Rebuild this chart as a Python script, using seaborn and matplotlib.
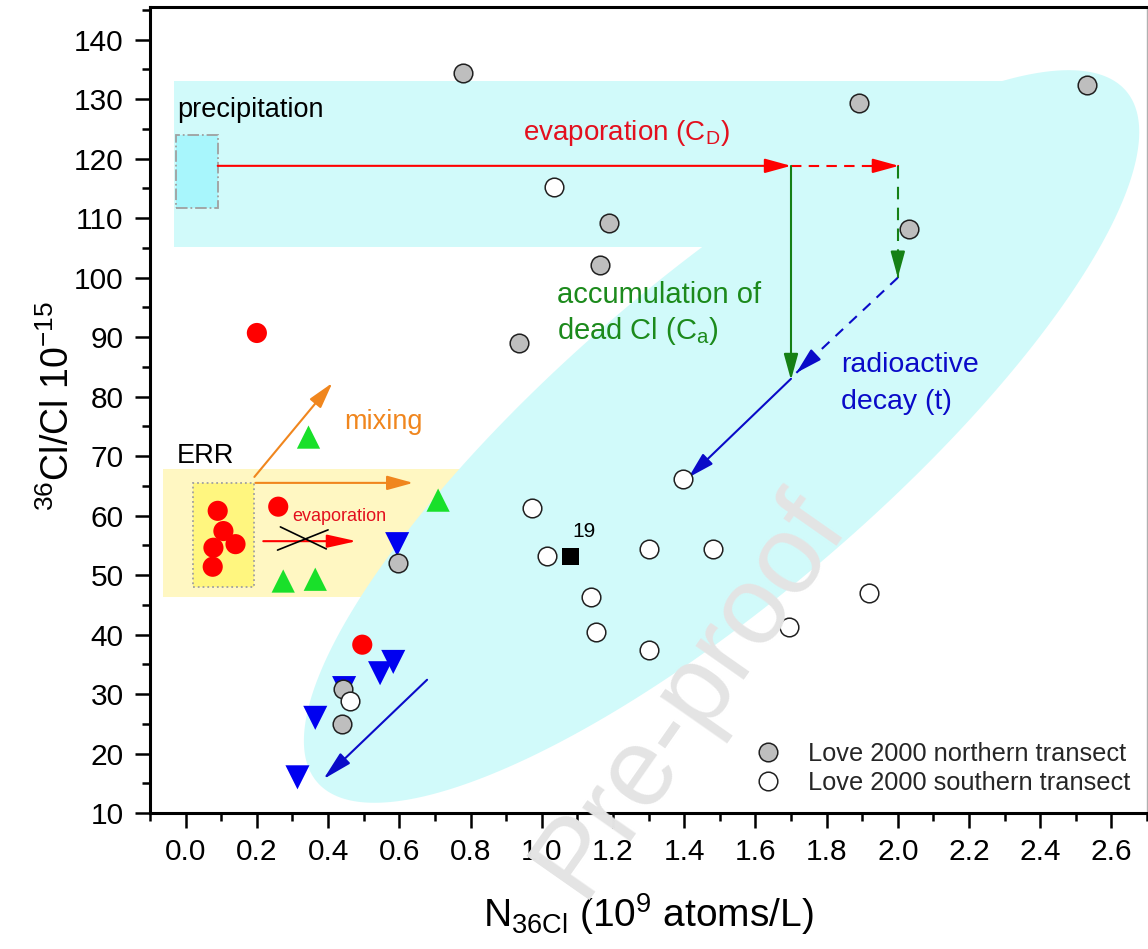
import numpy as np
import pandas as pd
import matplotlib
matplotlib.use("Agg")
import matplotlib.pyplot as plt
import seaborn as sns
from matplotlib.patches import Rectangle, Polygon
from matplotlib.ticker import MultipleLocator
from matplotlib.lines import Line2D

# ---------------- data ----------------
north_x = [0.78, 1.19, 1.165, 0.935, 1.89, 2.53, 2.03, 0.597, 0.443, 0.44]
north_y = [134.4, 109.2, 102.2, 89.0, 129.4, 132.4, 108.2, 52.0, 30.9, 25.0]

south_x = [1.034, 1.398, 0.972, 1.014, 1.30, 1.482, 1.137, 1.151, 1.30, 1.695, 1.92, 0.462]
south_y = [115.3, 66.2, 61.3, 53.2, 54.4, 54.4, 46.3, 40.4, 37.4, 41.3, 47.0, 28.8]

red_x = [0.09, 0.106, 0.078, 0.14, 0.076, 0.20, 0.26, 0.496]
red_y = [60.8, 57.4, 54.6, 55.2, 51.4, 90.7, 61.5, 38.3]

green_x = [0.345, 0.709, 0.274, 0.364]
green_y = [73.2, 62.6, 49.0, 49.3]

blue_x = [0.594, 0.583, 0.546, 0.445, 0.364, 0.314]
blue_y = [55.2, 35.4, 33.5, 31.0, 26.0, 16.0]

black_x = [1.081]
black_y = [53.2]
black_label = "19"

legend_labels = ["Love 2000 northern transect", "Love 2000 southern transect"]
x_ticks = [0.0, 0.2, 0.4, 0.6, 0.8, 1.0, 1.2, 1.4, 1.6, 1.8, 2.0, 2.2, 2.4, 2.6]
y_ticks = [10, 20, 30, 40, 50, 60, 70, 80, 90, 100, 110, 120, 130, 140]

# ---------------- style ----------------
sns.set_theme(style="white")
plt.rcParams["font.family"] = ["Liberation Sans", "DejaVu Sans"]
plt.rcParams["mathtext.fontset"] = "custom"
plt.rcParams["mathtext.rm"] = "Liberation Sans"
plt.rcParams["mathtext.it"] = "Liberation Sans:italic"
plt.rcParams["mathtext.default"] = "regular"

CYAN = "#D1FAFA"
YEL = "#FFF7C2"
YEL2 = "#FFF67F"
RED = "#FF0000"
TRED = "#E3101E"
GREEN = "#1C8A1C"
BLUE = "#0A0AC8"
ORANGE = "#F0861E"

fig = plt.figure(figsize=(11.48, 9.49), dpi=100)
ax = fig.add_axes([0.1307, 0.1433, 0.8685, 0.8493])
XMIN, XMAX, YMIN, YMAX = -0.1, 2.7, 10, 145.5
ax.set_xlim(XMIN, XMAX)
ax.set_ylim(YMIN, YMAX)

# pixel scale (for drawing the rotated ellipse)
SX = 0.8685 * 1148 / (XMAX - XMIN)
SY = 0.8493 * 949 / (YMAX - YMIN)

# background regions
ax.add_patch(Rectangle((-0.034, 105.2), 2.334, 27.9, facecolor=CYAN, edgecolor="none", zorder=1))
ax.add_patch(Rectangle((-0.064, 46.3), 0.864, 21.55, facecolor=YEL, edgecolor="none", zorder=1))
cx, cy, a_px, b_px, th = 1.505, 73.3, 532, 160, np.deg2rad(40.5)
t = np.linspace(0, 2 * np.pi, 400)
u, v = a_px * np.cos(t), b_px * np.sin(t)
ex = cx + (u * np.cos(th) - v * np.sin(th)) / SX
ey = cy + (u * np.sin(th) + v * np.cos(th)) / SY
ax.add_patch(Polygon(np.column_stack([ex, ey]), closed=True, facecolor=CYAN, edgecolor="none", zorder=2))

# precipitation box & ERR box
ax.add_patch(Rectangle((-0.028, 111.7), 0.118, 12.3, facecolor="#A8F6FC", edgecolor="#A0A0A0",
                       linestyle="-.", linewidth=1.3, zorder=3))
ax.add_patch(Rectangle((0.022, 48.0), 0.171, 17.5, facecolor=YEL2, edgecolor="#A0A0A0",
                       linestyle=":", linewidth=1.3, zorder=3))


def arrow(p0, p1, color, lw=1.5, ls="-", hl=0.8, hw=0.22, ms=20):
    if ls == "-":
        ax.annotate("", xy=p1, xytext=p0,
                    arrowprops=dict(arrowstyle=f"-|>,head_length={hl},head_width={hw}",
                                    color=color, lw=lw, shrinkA=0, shrinkB=0,
                                    mutation_scale=ms), zorder=6)
    else:
        ax.plot([p0[0], p1[0]], [p0[1], p1[1]], color=color, lw=lw, dashes=ls, zorder=6)
        d0 = (p0[0] + (p1[0] - p0[0]) * 0.9, p0[1] + (p1[1] - p0[1]) * 0.9)
        ax.annotate("", xy=p1, xytext=d0,
                    arrowprops=dict(arrowstyle=f"-|>,head_length={hl},head_width={hw}",
                                    color=color, lw=lw, shrinkA=0, shrinkB=0,
                                    mutation_scale=ms), zorder=6)


# conceptual arrows
arrow((0.09, 118.8), (1.70, 118.8), RED)
arrow((1.70, 118.8), (2.003, 118.8), RED, ls=(5, 3.5))
ax.plot([1.70, 1.70], [118.8, 95], color="#158015", lw=1.5, zorder=6)
arrow((1.70, 95), (1.70, 82.8), "#158015")
arrow((2.0, 118.8), (2.0, 100.0), "#158015", ls=(6, 4))
arrow((2.0, 100.0), (1.715, 84.0), BLUE, ls=(5, 4))
arrow((1.70, 83.0), (1.412, 66.4), BLUE)
arrow((0.678, 32.4), (0.387, 15.7), BLUE, hl=0.9)
arrow((0.193, 66.5), (0.412, 82.3), ORANGE)
arrow((0.196, 65.5), (0.639, 65.5), ORANGE)
arrow((0.218, 55.7), (0.48, 55.7), RED, hl=0.9, hw=0.2)
ax.plot([0.266, 0.395], [58.1, 54.4], color="black", lw=1.2, zorder=6)
ax.plot([0.258, 0.40], [54.2, 57.6], color="black", lw=1.2, zorder=6)

# ---------------- points ----------------
df_blue = pd.DataFrame({"x": blue_x, "y": blue_y})
df_north = pd.DataFrame({"x": north_x, "y": north_y})
df_south = pd.DataFrame({"x": south_x, "y": south_y})
df_red = pd.DataFrame({"x": red_x, "y": red_y})
df_green = pd.DataFrame({"x": green_x, "y": green_y})
df_black = pd.DataFrame({"x": black_x, "y": black_y})

sns.scatterplot(data=df_blue, x="x", y="y", marker="v", s=300, color="#0000F0",
                edgecolor="none", linewidth=0, ax=ax, zorder=7, legend=False)
sns.scatterplot(data=df_north, x="x", y="y", marker="o", s=180, color="#BEBEBE",
                edgecolor="#202020", linewidth=1.1, ax=ax, zorder=8, legend=False)
sns.scatterplot(data=df_south, x="x", y="y", marker="o", s=180, color="white",
                edgecolor="#202020", linewidth=1.1, ax=ax, zorder=9, legend=False)
sns.scatterplot(data=df_red, x="x", y="y", marker="o", s=210, color=RED,
                edgecolor="none", linewidth=0, ax=ax, zorder=8, legend=False)
sns.scatterplot(data=df_green, x="x", y="y", marker="^", s=280, color="#19E02A",
                edgecolor="none", linewidth=0, ax=ax, zorder=8, legend=False)
sns.scatterplot(data=df_black, x="x", y="y", marker="s", s=150, color="black",
                edgecolor="none", linewidth=0, ax=ax, zorder=8, legend=False)
ax.text(1.087, 56.4, black_label, fontsize=15, color="black", ha="left", va="baseline", zorder=10)

# ---------------- annotations ----------------
ax.text(-0.025, 127.05, "precipitation", fontsize=19.5, color="black", va="baseline", zorder=10)
ax.text(0.947, 123.2, "evaporation (C$_D$)", fontsize=20, color=TRED, va="baseline", zorder=10)
ax.text(1.042, 95.8, "accumulation of", fontsize=21, color=GREEN, va="baseline", zorder=10)
ax.text(1.042, 89.7, "dead Cl (C$_a$)", fontsize=21, color=GREEN, va="baseline", zorder=10)
ax.text(1.840, 84.2, "radioactive", fontsize=20.5, color=BLUE, va="baseline", zorder=10)
ax.text(1.840, 77.9, "decay (t)", fontsize=20.5, color=BLUE, va="baseline", zorder=10)
ax.text(0.445, 74.6, "mixing", fontsize=19.5, color=ORANGE, va="baseline", zorder=10)
ax.text(-0.025, 68.9, "ERR", fontsize=19.5, color="black", va="baseline", zorder=10)
ax.text(0.30, 59.1, "evaporation", fontsize=13, color=TRED, va="baseline", zorder=10)

# ---------------- axes ----------------
ax.set_xticks(x_ticks)
ax.set_xticklabels([f"{v:.1f}" for v in x_ticks])
ax.set_yticks(y_ticks)
ax.set_yticklabels([str(v) for v in y_ticks])
ax.xaxis.set_minor_locator(MultipleLocator(0.1))
ax.yaxis.set_minor_locator(MultipleLocator(5))
ax.tick_params(axis="both", which="major", direction="out", length=11, width=1.8,
               labelsize=21.5, color="black", labelcolor="black")
ax.tick_params(axis="x", which="major", pad=7, bottom=True, top=False)
ax.tick_params(axis="y", which="major", pad=8, left=True, right=False)
ax.tick_params(axis="both", which="minor", direction="out", length=6, width=1.8, color="black")
ax.tick_params(axis="x", which="minor", bottom=True, top=False)
ax.tick_params(axis="y", which="minor", left=True, right=False)

for side in ["left", "bottom", "top"]:
    ax.spines[side].set_visible(True)
    ax.spines[side].set_color("black")
    ax.spines[side].set_linewidth(2.2)
ax.spines["right"].set_color("#B0B0B0")
ax.spines["right"].set_linewidth(1.0)

ax.set_xlabel("N$_{36Cl}$ (10$^{9}$ atoms/L)", fontsize=28, color="black")
ax.set_ylabel("$^{36}$Cl/Cl 10$^{-15}$", fontsize=27, color="black")
ax.xaxis.set_label_coords(0.5, -0.097)
ax.yaxis.set_label_coords(-0.073, 0.505)

# legend
handles = [
    Line2D([], [], marker="o", linestyle="none", markersize=13.4, markerfacecolor="#BEBEBE",
           markeredgecolor="#202020", markeredgewidth=1.1),
    Line2D([], [], marker="o", linestyle="none", markersize=13.4, markerfacecolor="white",
           markeredgecolor="#202020", markeredgewidth=1.1),
]
ax.legend(handles, legend_labels, loc="lower right", bbox_to_anchor=(0.983, 0.022),
          frameon=False, fontsize=18.3, handletextpad=0.95, labelspacing=0.2,
          borderpad=0, borderaxespad=0, handlelength=1.2)

# watermark
fig.text(0.738, 0.452, "Pre-proof", rotation=55, rotation_mode="anchor",
         ha="right", va="baseline", fontsize=80, color="#E4E4E4", zorder=100)

fig.savefig("out.png", dpi=100)
